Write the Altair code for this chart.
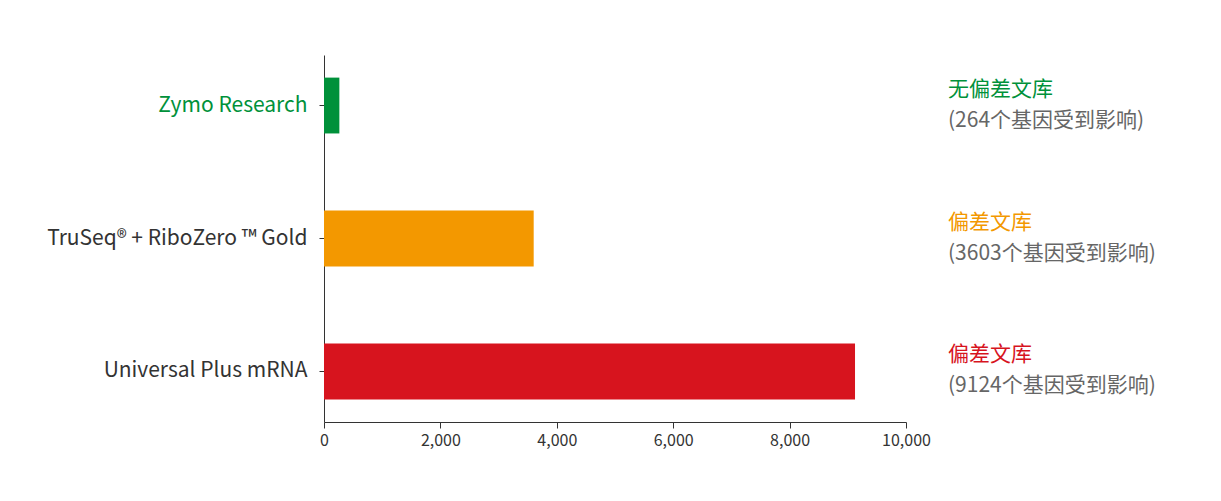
import altair as alt
import pandas as pd

categories = ["Zymo Research", "TruSeq® + RiboZero ™ Gold", "Universal Plus mRNA"]
values = [264, 3603, 9124]
colors = ["#00913A", "#F39800", "#D7141E"]
note_titles = ["无偏差文库", "偏差文库", "偏差文库"]
note_details = ["(264个基因受到影响)", "(3603个基因受到影响)", "(9124个基因受到影响)"]
x_ticks = [0, 2000, 4000, 6000, 8000, 10000]

df = pd.DataFrame({
    "library": categories,
    "genes": values,
    "color": colors,
    "title": note_titles,
    "detail": note_details,
})

FONT = "Noto Sans CJK SC"

y_enc = alt.Y(
    "library:N",
    sort=categories,
    title=None,
    scale=alt.Scale(paddingInner=0.58, paddingOuter=0.17),
    axis=alt.Axis(
        labelFontSize=21,
        labelFont=FONT,
        labelColor=alt.expr("datum.value == 'Zymo Research' ? '#00913A' : '#333333'"),
        labelPadding=12,
        tickSize=5,
        tickColor="#333333",
        domainColor="#333333",
        labelLimit=400,
    ),
)

bars = alt.Chart(df).mark_bar().encode(
    x=alt.X(
        "genes:Q",
        title=None,
        scale=alt.Scale(domain=[0, 10000]),
        axis=alt.Axis(
            values=x_ticks,
            format=",.0f",
            labelFontSize=16,
            labelFont=FONT,
            labelColor="#333333",
            tickSize=6,
            tickColor="#333333",
            domainColor="#333333",
            grid=False,
            labelPadding=4,
            labelFlush=False,
        ),
    ),
    y=y_enc,
    color=alt.Color("color:N", scale=None),
)

titles = alt.Chart(df).mark_text(
    align="left", baseline="middle", font=FONT, fontSize=21, dy=-16
).encode(
    x=alt.value(624),
    y=alt.Y("library:N", sort=categories),
    text="title:N",
    color=alt.Color("color:N", scale=None),
)

details = alt.Chart(df).mark_text(
    align="left", baseline="middle", font=FONT, fontSize=21, dy=15, color="#666666"
).encode(
    x=alt.value(624),
    y=alt.Y("library:N", sort=categories),
    text="detail:N",
)

chart = alt.layer(bars, titles, details).properties(
    width=582,
    height=367,
    background="white",
    autosize=alt.AutoSizeParams(type="none"),
    padding={"left": 316, "top": 47, "right": 300, "bottom": 60},
).configure_view(stroke=None)

chart.save("out.html", embed_options={"renderer": "svg", "actions": False})
